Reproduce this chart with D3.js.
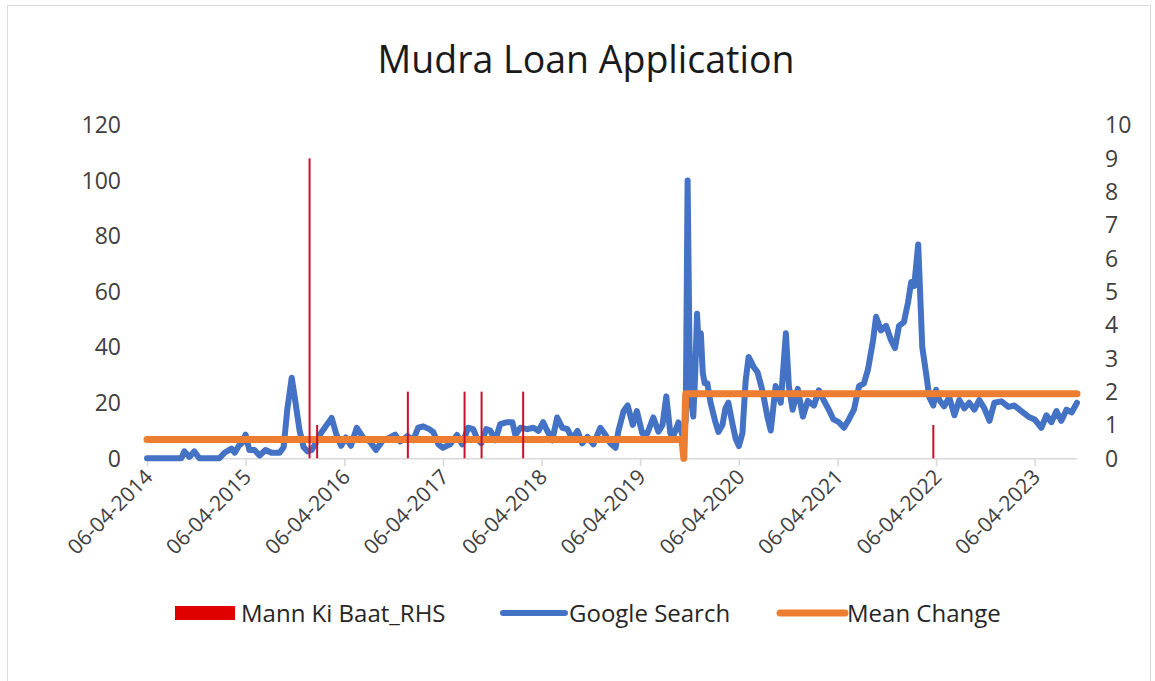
<!DOCTYPE html>
<html>
<head>
<meta charset="utf-8">
<script src="https://cdn.jsdelivr.net/npm/d3@7"></script>
<style>
  body { margin: 0; background: #fff; }
  svg { display: block; font-family: "Open Sans", sans-serif; }
</style>
</head>
<body>
<div id="chart"></div>
<script>
// Google Search interest (left axis)
const searchDates = [
  '2014-04-06', '2014-08-11', '2014-08-22', '2014-09-10', '2014-09-28', '2014-10-17', '2014-12-30',
  '2015-01-18', '2015-02-13', '2015-02-25', '2015-03-12', '2015-03-24', '2015-04-06', '2015-04-20',
  '2015-05-09', '2015-05-28', '2015-06-19', '2015-07-11', '2015-08-10', '2015-08-25', '2015-09-08',
  '2015-09-24', '2015-10-08', '2015-10-23', '2015-11-07', '2015-11-22', '2015-12-07', '2015-12-22',
  '2016-01-06', '2016-01-28', '2016-02-19', '2016-03-06', '2016-03-25', '2016-04-11', '2016-04-30',
  '2016-05-22', '2016-06-14', '2016-07-10', '2016-08-01', '2016-08-27', '2016-09-22', '2016-10-11',
  '2016-10-29', '2016-11-25', '2016-12-17', '2017-01-04', '2017-01-23', '2017-02-14', '2017-03-01',
  '2017-03-20', '2017-04-06', '2017-05-02', '2017-05-28', '2017-06-16', '2017-07-08', '2017-07-27',
  '2017-08-11', '2017-08-26', '2017-09-13', '2017-09-28', '2017-10-17', '2017-11-04', '2017-11-30',
  '2017-12-19', '2017-12-30', '2018-01-18', '2018-02-13', '2018-03-07', '2018-03-26', '2018-04-12',
  '2018-04-27', '2018-05-16', '2018-06-03', '2018-06-22', '2018-07-11', '2018-07-29', '2018-08-17',
  '2018-09-04', '2018-09-23', '2018-10-15', '2018-11-10', '2018-11-29', '2018-12-17', '2019-01-05',
  '2019-01-16', '2019-02-04', '2019-02-19', '2019-03-10', '2019-03-25', '2019-04-14', '2019-05-03',
  '2019-05-25', '2019-06-13', '2019-06-28', '2019-07-12', '2019-07-27', '2019-08-07', '2019-08-26',
  '2019-09-14', '2019-09-22', '2019-09-29', '2019-10-06', '2019-10-13', '2019-10-20', '2019-10-27',
  '2019-11-03', '2019-11-10', '2019-11-17', '2019-11-24', '2019-12-01', '2019-12-11', '2019-12-23',
  '2020-01-10', '2020-01-21', '2020-02-05', '2020-02-16', '2020-02-27', '2020-03-14', '2020-03-25',
  '2020-04-06', '2020-04-19', '2020-05-01', '2020-05-12', '2020-05-30', '2020-06-14', '2020-07-03',
  '2020-07-21', '2020-08-02', '2020-08-20', '2020-09-08', '2020-09-27', '2020-10-08', '2020-10-22',
  '2020-11-10', '2020-11-29', '2020-12-17', '2021-01-09', '2021-01-27', '2021-02-15', '2021-03-05',
  '2021-03-22', '2021-04-11', '2021-04-30', '2021-05-18', '2021-06-06', '2021-06-25', '2021-07-13',
  '2021-07-28', '2021-08-16', '2021-08-27', '2021-09-14', '2021-10-03', '2021-10-21', '2021-11-05',
  '2021-11-20', '2021-12-08', '2021-12-23', '2022-01-04', '2022-01-15', '2022-01-30', '2022-02-14',
  '2022-03-01', '2022-03-12', '2022-03-27', '2022-04-06', '2022-04-18', '2022-05-06', '2022-05-25',
  '2022-06-13', '2022-07-01', '2022-07-20', '2022-08-07', '2022-08-26', '2022-09-13', '2022-10-02',
  '2022-10-21', '2022-11-08', '2022-12-04', '2022-12-30', '2023-01-21', '2023-02-16', '2023-03-14',
  '2023-04-06', '2023-05-01', '2023-05-20', '2023-06-07', '2023-06-26', '2023-07-14', '2023-08-02',
  '2023-08-21', '2023-09-10'
];
const searchValues = [
  0, 0, 2.5, 0.5, 2.5, 0, 0,
  2, 3.5, 2, 4.5, 5.5, 8.5, 3,
  3, 1, 3, 2, 2, 4, 18,
  29, 20, 10, 4, 2.5, 3, 5.5,
  8.5, 11.5, 14.5, 9, 4.5, 7.5, 4.5,
  11, 7.5, 6, 3, 6.5, 7.5, 8.5,
  6, 8, 6.5, 11, 11.5, 10.5, 9.5,
  5, 3.8, 5, 8.4, 5, 11, 10.5,
  7, 5.4, 10.5, 10, 6.5, 12.3, 13,
  13, 8.4, 11, 10.5, 11, 9.9, 13,
  9.9, 6.5, 14.7, 11, 10.5, 7, 9.9,
  5.4, 7.7, 5, 11, 8.4, 5.4, 3.8,
  9.9, 17, 19, 12, 17, 9, 9,
  14.7, 9.6, 12, 22.3, 9, 8, 12.9,
  7, 14, 100, 40, 20, 15, 30,
  52, 38, 45, 31, 27, 27, 20,
  13, 9.5, 12, 18, 20, 12, 7,
  4.4, 9, 28, 36.5, 33, 31, 24,
  14.7, 10, 26, 20, 45, 26, 17.5,
  25, 15, 20.7, 19, 24.5, 20.7, 17.5,
  14, 13, 11, 14, 17.5, 26, 27,
  32, 42.6, 51, 46, 47.7, 42.6, 39.7,
  47.7, 49, 56, 63.5, 62, 77, 40,
  30, 22, 19, 24.7, 21, 18.7, 22,
  15.5, 21, 18, 20, 17.5, 21, 18,
  13.5, 20, 20.5, 18.5, 19, 17, 15,
  14, 11, 15.5, 13, 17, 13.5, 17.5,
  16.5, 20
];

// Mean Change (left axis)
const meanDates = ['2014-04-06', '2019-09-08', '2019-09-15', '2019-09-22', '2023-09-10'];
const meanValues = [6.8, 6.8, 0, 23.2, 23.2];

// Mann Ki Baat mentions (right axis)
const mkbDates = ['2015-11-29', '2015-12-27', '2016-11-27', '2017-06-25', '2017-08-27', '2018-01-28', '2022-03-27'];
const mkbValues = [9, 1, 2, 2, 2, 2, 1];

const leftTicks = [0, 20, 40, 60, 80, 100, 120];
const rightTicks = [0, 1, 2, 3, 4, 5, 6, 7, 8, 9, 10];
const tickYears = [2014, 2015, 2016, 2017, 2018, 2019, 2020, 2021, 2022, 2023];

const width = 1155;
const height = 681;
const plot = {left: 147, right: 1077, top: 125, bottom: 458.3};

const parse = d3.timeParse('%Y-%m-%d');
const fmt = d3.timeFormat('%d-%m-%Y');

const search = searchDates.map((d, i) => ({date: parse(d), value: searchValues[i]}));
const mean = meanDates.map((d, i) => ({date: parse(d), value: meanValues[i]}));
const mkb = mkbDates.map((d, i) => ({date: parse(d), value: mkbValues[i]}));

const svg = d3.select('#chart')
  .append('svg')
  .attr('width', width)
  .attr('height', height);

// chart frame
svg.append('rect')
  .attr('x', 7.5)
  .attr('y', 5.5)
  .attr('width', 1143)
  .attr('height', 690)
  .attr('fill', '#fff')
  .attr('stroke', '#d9d9d9');

const x = d3.scaleTime()
  .domain([parse(searchDates[0]), parse(searchDates[searchDates.length - 1])])
  .range([plot.left, plot.right]);
const yLeft = d3.scaleLinear().domain([0, 120]).range([plot.bottom, plot.top]);
const yRight = d3.scaleLinear().domain([0, 10]).range([plot.bottom, plot.top]);

// title
svg.append('text')
  .attr('x', 586)
  .attr('y', 73)
  .attr('text-anchor', 'middle')
  .attr('font-size', 37.5)
  .attr('fill', '#1a1a1a')
  .text('Mudra Loan Application');

// x axis
const tickDates = tickYears.map(y => new Date(y, 3, 6));
const xAxis = svg.append('g')
  .attr('transform', `translate(0,${plot.bottom})`)
  .call(d3.axisBottom(x).tickValues(tickDates).tickSize(8).tickSizeOuter(0).tickFormat(''));
xAxis.select('.domain').attr('stroke', '#d9d9d9').attr('stroke-width', 1.5);
xAxis.selectAll('.tick line').attr('stroke', '#d9d9d9').attr('stroke-width', 1.5);

svg.append('g')
  .selectAll('text')
  .data(tickDates)
  .enter()
  .append('text')
  .attr('transform', d => `translate(${x(d) + 7},${plot.bottom + 20}) rotate(-45)`)
  .attr('text-anchor', 'end')
  .attr('font-size', 21)
  .attr('fill', '#404040')
  .text(d => fmt(d));

// left axis labels
svg.append('g')
  .selectAll('text')
  .data(leftTicks)
  .enter()
  .append('text')
  .attr('x', 121)
  .attr('y', d => yLeft(d))
  .attr('dy', '0.36em')
  .attr('text-anchor', 'end')
  .attr('font-size', 23)
  .attr('fill', '#404040')
  .text(d => d);

// right axis labels
svg.append('g')
  .selectAll('text')
  .data(rightTicks)
  .enter()
  .append('text')
  .attr('x', 1105)
  .attr('y', d => yRight(d))
  .attr('dy', '0.36em')
  .attr('text-anchor', 'start')
  .attr('font-size', 23)
  .attr('fill', '#404040')
  .text(d => d);

// Google Search line
const lineLeft = d3.line()
  .x(d => x(d.date))
  .y(d => yLeft(d.value));

svg.append('path')
  .datum(search)
  .attr('fill', 'none')
  .attr('stroke', '#4472c4')
  .attr('stroke-width', 6)
  .attr('stroke-linejoin', 'round')
  .attr('stroke-linecap', 'round')
  .attr('d', lineLeft);

// Mean Change step
svg.append('path')
  .datum(mean)
  .attr('fill', 'none')
  .attr('stroke', '#ed7d31')
  .attr('stroke-width', 7)
  .attr('stroke-linejoin', 'round')
  .attr('stroke-linecap', 'round')
  .attr('d', lineLeft);

// Mann Ki Baat columns (secondary axis, drawn on top)
svg.append('g')
  .selectAll('rect')
  .data(mkb)
  .enter()
  .append('rect')
  .attr('x', d => x(d.date) - 1)
  .attr('y', d => yRight(d.value))
  .attr('width', 2)
  .attr('height', d => yRight(0) - yRight(d.value))
  .attr('fill', '#c8102e');

// legend
const legendY = 613;
const legend = svg.append('g').attr('font-size', 24).attr('fill', '#262626');

legend.append('rect')
  .attr('x', 175).attr('y', legendY - 7)
  .attr('width', 60).attr('height', 14)
  .attr('fill', '#e00000');
legend.append('text')
  .attr('x', 241).attr('y', legendY).attr('dy', '0.36em')
  .text('Mann Ki Baat_RHS');

legend.append('line')
  .attr('x1', 503).attr('x2', 565)
  .attr('y1', legendY).attr('y2', legendY)
  .attr('stroke', '#4472c4').attr('stroke-width', 6).attr('stroke-linecap', 'round');
legend.append('text')
  .attr('x', 569).attr('y', legendY).attr('dy', '0.36em')
  .text('Google Search');

legend.append('line')
  .attr('x1', 780).attr('x2', 845)
  .attr('y1', legendY).attr('y2', legendY)
  .attr('stroke', '#ed7d31').attr('stroke-width', 7).attr('stroke-linecap', 'round');
legend.append('text')
  .attr('x', 847).attr('y', legendY).attr('dy', '0.36em')
  .text('Mean Change');
</script>
</body>
</html>
